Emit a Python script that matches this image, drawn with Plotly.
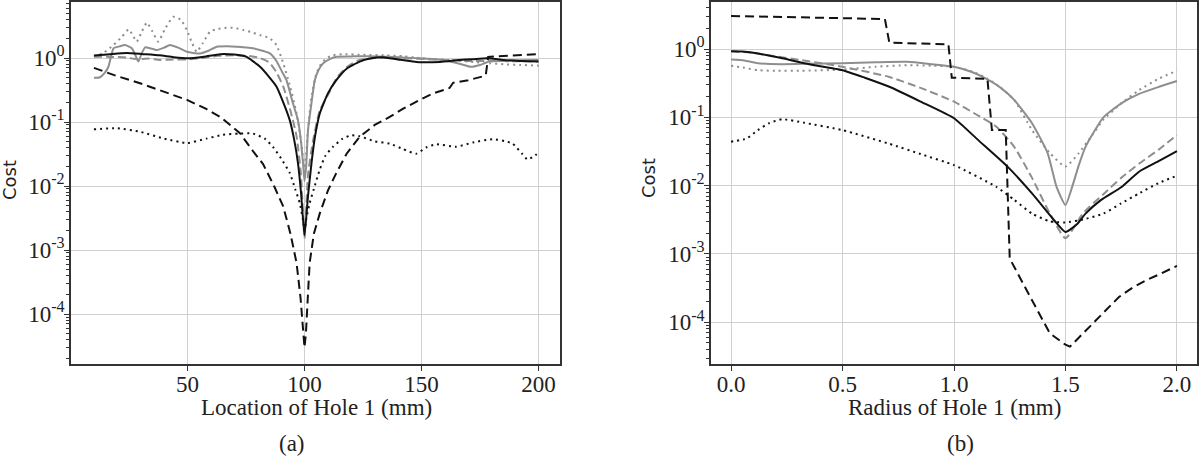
import plotly.graph_objects as go

# ---------------- Panel (a): Location of Hole 1 (mm) ----------------
bs_a_x = [10, 17, 24, 31, 38, 44, 50, 57, 64, 70, 75, 81, 85, 88, 91, 93.7, 95.5, 97.2, 98.5, 100,
          101.5, 103, 104.5, 106.5, 110, 113.6, 118, 123.6, 128, 133.5, 140, 149, 158, 166, 172, 178,
          185, 192, 200]
bs_a_y = [1.09, 1.15, 1.2, 1.15, 1.1, 1.03, 0.99, 1.05, 1.15, 1.13, 1.05, 0.73, 0.5, 0.36, 0.2, 0.107,
          0.055, 0.023, 0.008, 0.0017, 0.007, 0.023, 0.06, 0.135, 0.28, 0.45, 0.68, 0.88, 0.98, 1.03,
          0.95, 0.86, 0.87, 0.93, 0.96, 0.99, 0.93, 0.9, 0.88]

bd_a_x = [10, 20, 30, 40, 50, 58, 64, 69, 72.4, 78, 82.3, 87, 90.9, 94, 96.6, 98.3, 99.4, 100, 100.6,
          101.5, 102.2, 104, 106.5, 110, 113.6, 118, 123.6, 130, 136.4, 142, 149, 155, 162, 163.5, 170,
          176.5, 177.5, 178.5, 185, 192, 200]
bd_a_y = [0.7, 0.52, 0.4, 0.3, 0.22, 0.16, 0.12, 0.085, 0.067, 0.035, 0.022, 0.01, 0.0048, 0.0018,
          0.00063, 0.00018, 0.00005, 0.00003, 0.00005, 0.00018, 0.00063, 0.0018, 0.0037, 0.0085, 0.016,
          0.032, 0.059, 0.09, 0.12, 0.16, 0.22, 0.28, 0.34, 0.41, 0.45, 0.52, 0.55, 1.04, 1.08, 1.12, 1.15]

bo_a_x = [10, 20, 30, 40, 50, 58, 65, 72, 78, 83, 86.5, 90, 93.7, 96, 98, 99.3, 100, 100.7, 102.2, 104,
          106.5, 109, 112.2, 116, 120, 123.6, 130, 136.4, 142, 147.7, 152, 156.3, 164.8, 172, 180.4,
          186, 189, 193, 195.3, 198, 200]
bo_a_y = [0.077, 0.08, 0.07, 0.055, 0.047, 0.055, 0.063, 0.066, 0.066, 0.055, 0.041, 0.027, 0.016, 0.009,
          0.0054, 0.003, 0.002, 0.003, 0.0054, 0.009, 0.018, 0.03, 0.041, 0.054, 0.062, 0.06, 0.05, 0.046,
          0.038, 0.032, 0.04, 0.045, 0.041, 0.048, 0.054, 0.05, 0.046, 0.032, 0.026, 0.029, 0.033]

gs_a_x = [10, 12.6, 14.5, 16.2, 18.4, 21, 23.3, 26.2, 28, 29, 30.5, 31.9, 34, 36.9, 40, 42.5, 46, 49.7,
          55.3, 59, 62.5, 67, 71, 75, 78, 82, 85.2, 88, 90.5, 92.3, 95, 97.2, 98.5, 99.5, 100, 100.7,
          101.5, 103, 104.4, 106, 108, 111, 113.6, 120, 128, 135, 142, 149, 156, 162, 167, 171.2, 175,
          179, 185, 192, 200]
gs_a_y = [0.49, 0.5, 0.58, 0.73, 1.42, 1.52, 1.6, 1.42, 1.05, 0.88, 1.2, 1.47, 1.42, 1.33, 1.45, 1.6,
          1.45, 1.25, 1.18, 1.3, 1.5, 1.52, 1.5, 1.46, 1.42, 1.3, 1.18, 0.9, 0.6, 0.45, 0.2, 0.107, 0.05,
          0.02, 0.012, 0.02, 0.075, 0.2, 0.45, 0.65, 0.83, 0.97, 1.05, 1.06, 1.07, 1.05, 1.02, 0.99,
          0.96, 0.88, 0.8, 0.73, 0.78, 0.88, 0.9, 0.92, 0.93]

go_a_x = [10, 14, 18.4, 22, 24.8, 26.5, 28.3, 30.5, 32.6, 35, 37.5, 40.5, 43.9, 47, 49.7, 52, 53.9,
          56.5, 59.6, 63, 66.7, 70, 73.8, 77, 80.9, 85.2, 88, 90.9, 93.5, 96.6, 98.5, 99.5, 100, 100.5,
          101.5, 103, 105.1, 107, 109.4, 112, 116.4, 125, 135, 142, 149, 156, 162, 170, 179, 185, 192, 200]
go_a_y = [1.05, 1.2, 1.6, 2.15, 2.8, 2.3, 1.8, 2.6, 3.56, 2.6, 1.8, 2.9, 4.4, 4.0, 2.74, 1.7, 1.25, 1.7,
          2.58, 2.85, 2.97, 2.95, 2.74, 2.55, 2.29, 2.03, 1.6, 0.83, 0.4, 0.137, 0.05, 0.025, 0.015,
          0.025, 0.075, 0.25, 0.58, 0.8, 0.99, 1.1, 1.15, 1.12, 1.1, 1.07, 1.0, 0.96, 0.93, 0.88, 0.83,
          0.8, 0.78, 0.76]

gd_a_x = [10, 17, 24, 27, 29, 33, 38.3, 44, 49.7, 56, 63, 70, 76, 81, 85, 88, 91, 94, 96.6, 98.5, 100,
          101.5, 103.6, 106.5, 110.8, 113.6, 118, 123, 130, 140, 150, 160, 170, 180, 190, 200]
gd_a_y = [1.05, 1.04, 1.02, 0.97, 0.95, 0.98, 0.93, 0.95, 0.95, 1.0, 1.08, 1.1, 1.08, 1.0, 0.85, 0.6,
          0.35, 0.15, 0.06, 0.015, 0.0015, 0.015, 0.05, 0.15, 0.3, 0.48, 0.72, 0.92, 1.0, 1.0, 0.97,
          0.93, 0.9, 0.9, 0.89, 0.88]

# ---------------- Panel (b): Radius of Hole 1 (mm) ----------------
bs_b_x = [0, 0.05, 0.1, 0.23, 0.35, 0.5, 0.6, 0.71, 0.85, 1.0, 1.11, 1.24, 1.35, 1.45, 1.5, 1.55, 1.59,
          1.66, 1.75, 1.83, 1.92, 2.0]
bs_b_y = [0.93, 0.92, 0.88, 0.73, 0.6, 0.49, 0.38, 0.28, 0.17, 0.097, 0.046, 0.019, 0.0077, 0.0031,
          0.0021, 0.0027, 0.0039, 0.0062, 0.0095, 0.016, 0.023, 0.032]

bd_b_x = [0, 0.35, 0.69, 0.71, 0.975, 0.99, 1.15, 1.17, 1.232, 1.25, 1.3, 1.35, 1.43, 1.5, 1.52, 1.56,
          1.62, 1.68, 1.74, 1.8, 1.86, 1.93, 2.0]
bd_b_y = [3.04, 2.9, 2.75, 1.24, 1.17, 0.38, 0.365, 0.065, 0.065, 0.00086, 0.00042, 0.00021, 0.000069,
          0.000047, 0.000044, 0.00006, 0.000095, 0.00015, 0.000235, 0.00032, 0.00041, 0.00052, 0.00067]

bo_b_x = [0, 0.07, 0.12, 0.17, 0.23, 0.33, 0.5, 0.71, 0.85, 1.0, 1.19, 1.27, 1.35, 1.43, 1.5, 1.58,
          1.67, 1.75, 1.83, 1.92, 2.0]
bo_b_y = [0.044, 0.049, 0.065, 0.082, 0.094, 0.083, 0.065, 0.041, 0.029, 0.02, 0.0096, 0.0062, 0.0039,
          0.003, 0.0029, 0.0032, 0.0039, 0.0055, 0.0077, 0.011, 0.014]

gs_b_x = [0, 0.06, 0.12, 0.23, 0.35, 0.5, 0.65, 0.79, 0.9, 1.0, 1.08, 1.15, 1.21, 1.27, 1.35, 1.42,
          1.46, 1.5, 1.53, 1.56, 1.59, 1.67, 1.75, 1.83, 1.92, 2.0]
gs_b_y = [0.7, 0.68, 0.62, 0.6, 0.61, 0.62, 0.64, 0.65, 0.6, 0.55, 0.46, 0.36, 0.27, 0.18, 0.082, 0.03,
          0.0096, 0.0052, 0.0096, 0.02, 0.037, 0.1, 0.16, 0.22, 0.28, 0.34]

go_b_x = [0, 0.06, 0.12, 0.2, 0.31, 0.5, 0.65, 0.79, 0.9, 1.0, 1.08, 1.15, 1.21, 1.27, 1.35, 1.43, 1.5,
          1.56, 1.62, 1.67, 1.75, 1.83, 1.92, 2.0]
go_b_y = [0.57, 0.53, 0.49, 0.48, 0.48, 0.5, 0.55, 0.58, 0.57, 0.55, 0.47, 0.37, 0.27, 0.18, 0.065, 0.03,
          0.019, 0.03, 0.055, 0.092, 0.16, 0.25, 0.37, 0.48]

gd_b_x = [0, 0.1, 0.2, 0.31, 0.5, 0.71, 0.85, 1.0, 1.1, 1.19, 1.27, 1.35, 1.43, 1.5, 1.58, 1.67, 1.75,
          1.83, 1.92, 2.0]
gd_b_y = [0.93, 0.88, 0.78, 0.69, 0.55, 0.39, 0.27, 0.17, 0.11, 0.073, 0.037, 0.013, 0.0039, 0.0017,
          0.004, 0.0075, 0.013, 0.021, 0.034, 0.055]

xticks_a = [50, 100, 150, 200]
xticks_b = [0.0, 0.5, 1.0, 1.5, 2.0]
ytick_vals = [1e-4, 1e-3, 1e-2, 1e-1, 1]
ytick_text = ["10<sup>-4</sup>", "10<sup>-3</sup>", "10<sup>-2</sup>", "10<sup>-1</sup>", "10<sup>0</sup>"]

BLACK = "#111111"
GRAY = "#8e8e8e"
W, H = 1200, 461
ML, MR, MT, MB = 0, 2, 2, 97
PW = W - ML - MR
PH = H - MT - MB

def px(xp):
    return (xp - ML) / PW

def py(yp):
    return (H - MB - yp) / PH

styles = [
    # (suffix, color, dash, shape)
    ("gd", GRAY, "8px,4px", "spline"),
    ("go", GRAY, "2px,4px", "spline"),
    ("gs", GRAY, "solid", "spline"),
    ("bo", BLACK, "2px,4px", "spline"),
    ("bd", BLACK, "9px,5px", "linear"),
    ("bs", BLACK, "solid", "spline"),
]
data_a = {"gd": (gd_a_x, gd_a_y), "go": (go_a_x, go_a_y), "gs": (gs_a_x, gs_a_y),
          "bo": (bo_a_x, bo_a_y), "bd": (bd_a_x, bd_a_y), "bs": (bs_a_x, bs_a_y)}
data_b = {"gd": (gd_b_x, gd_b_y), "go": (go_b_x, go_b_y), "gs": (gs_b_x, gs_b_y),
          "bo": (bo_b_x, bo_b_y), "bd": (bd_b_x, bd_b_y), "bs": (bs_b_x, bs_b_y)}

fig = go.Figure()
for data, xa, ya in [(data_a, "x", "y"), (data_b, "x2", "y2")]:
    for key, color, dash, shape in styles:
        xs, ys = data[key]
        line = dict(color=color, width=2, dash=dash, shape=shape)
        if shape == "spline":
            line["smoothing"] = 0.5
        fig.add_trace(go.Scatter(x=xs, y=ys, mode="lines", line=line, xaxis=xa, yaxis=ya,
                                 showlegend=False, hoverinfo="skip"))

minor_vals = [m * 10.0 ** k for k in range(-5, 1) for m in range(2, 10)]
tick_font = dict(family="Liberation Serif, Times New Roman, serif", size=23, color="#222222")
axis_common = dict(showline=True, mirror=True, linecolor="#333333", linewidth=1.5,
                   ticks="outside", tickwidth=1, tickcolor="#333333",
                   showgrid=True, gridcolor="#d0d0d0", gridwidth=1, zeroline=False,
                   tickfont=tick_font)
minor_y = dict(tickvals=minor_vals, ticks="outside", ticklen=3, tickcolor="#333333", showgrid=False)

fig.update_layout(
    width=W, height=H,
    margin=dict(l=ML, r=MR, t=MT, b=MB, autoexpand=False),
    paper_bgcolor="white", plot_bgcolor="white",
    xaxis=dict(domain=[px(71), px(560)], range=[0.2, 209.2], tickvals=xticks_a,
               ticklen=5, ticklabelstandoff=-6, anchor="y", **axis_common),
    yaxis=dict(domain=[0, 1], type="log", range=[-4.78, 0.875], tickvals=ytick_vals,
               ticktext=ytick_text, anchor="x", ticklen=5, ticklabelstandoff=-5,
               minor=minor_y, **axis_common),
    xaxis2=dict(domain=[px(711), px(1197)], range=[-0.09, 2.09], tickvals=xticks_b,
                tickformat=".1f", ticklen=5, ticklabelstandoff=-6, anchor="y2", **axis_common),
    yaxis2=dict(domain=[0, 1], type="log", range=[-4.61, 0.688], tickvals=ytick_vals,
                ticktext=ytick_text, anchor="x2", ticklen=5, ticklabelstandoff=-5,
                minor=minor_y, **axis_common),
)

title_font = dict(family="Liberation Serif, Times New Roman, serif", size=23, color="#222222")
cost_font = dict(family="DejaVu Sans, sans-serif", size=18, color="#222222")
annots = [
    dict(text="Cost", x=px(9), y=py(180), textangle=-90, font=cost_font),
    dict(text="Cost", x=px(648), y=py(178), textangle=-90, font=cost_font),
    dict(text="Location of Hole 1 (mm)", x=px(316), y=py(407), font=title_font),
    dict(text="Radius of Hole 1 (mm)", x=px(954), y=py(407), font=title_font),
    dict(text="(a)", x=px(292), y=py(444), font=title_font),
    dict(text="(b)", x=px(960), y=py(444), font=title_font),
]
for a in annots:
    fig.add_annotation(xref="paper", yref="paper", showarrow=False, xanchor="center",
                       yanchor="middle", **a)

fig.write_html("out.html", config={"displayModeBar": False})

# remove the default page margin so the figure sits at the top-left corner of the window
with open("out.html", "r", encoding="utf-8") as f:
    html = f.read()
html = html.replace("<head>", "<head><style>html,body{margin:0;padding:0;overflow:hidden;}</style>", 1)
with open("out.html", "w", encoding="utf-8") as f:
    f.write(html)
